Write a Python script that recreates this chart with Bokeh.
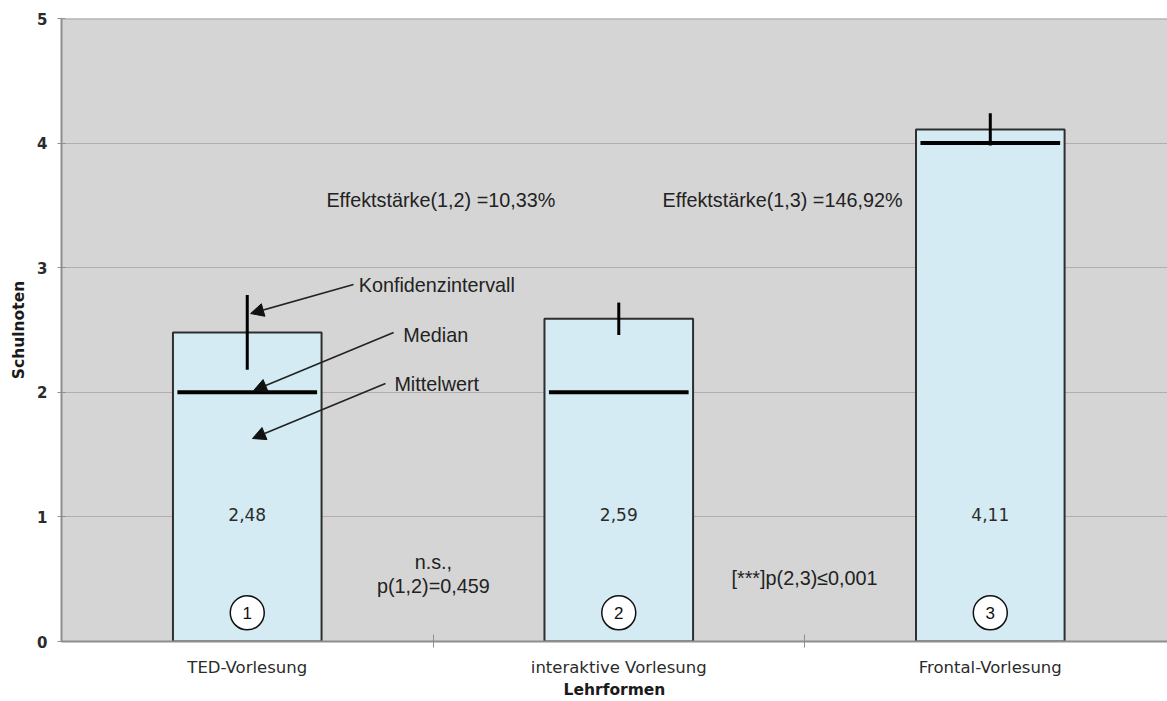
from bokeh.plotting import figure
from bokeh.models import (ColumnDataSource, Range1d, FixedTicker, Arrow, NormalHead, Span)
from bokeh.core.properties import value
from bokeh.embed import file_html
from bokeh.resources import INLINE

# --- data -------------------------------------------------------------
categories = ["TED-Vorlesung", "interaktive Vorlesung", "Frontal-Vorlesung"]
group_ids = ["1", "2", "3"]
means = [2.48, 2.59, 4.11]
medians = [2.0, 2.0, 4.0]
ci_low = [2.18, 2.46, 3.98]
ci_high = [2.78, 2.72, 4.24]

effect_texts = ["Effektstärke(1,2) =10,33%", "Effektstärke(1,3) =146,92%"]
test_texts = ["n.s.,", "p(1,2)=0,459", "[***]p(2,3)≤0,001"]
legend_texts = ["Konfidenzintervall", "Median", "Mittelwert"]

# --- layout helpers -----------------------------------------------------
xc = [i + 0.5 for i in range(len(categories))]
bar_w = 0.40
label_font = value("Liberation Sans")
tick_font = "DejaVu Sans"

p = figure(width=1167, height=701, output_backend="svg", toolbar_location=None,
           x_range=Range1d(0, 2.977), y_range=Range1d(0, 5),
           min_border_left=61, min_border_right=0, min_border_top=18,
           min_border_bottom=60)
p.background_fill_color = "#d5d5d5"
p.border_fill_color = "white"
p.outline_line_color = None

# axes
p.xaxis.ticker = FixedTicker(ticks=xc, minor_ticks=[1, 2])
p.xaxis.major_label_overrides = {x: c for x, c in zip(xc, categories)}
p.xaxis.major_tick_line_color = None
p.xaxis.minor_tick_in = 7
p.xaxis.minor_tick_out = 6
p.xaxis.minor_tick_line_color = "#8e8e8e"
p.xaxis.axis_line_color = "#8e8e8e"
p.xaxis.axis_line_width = 2
p.xaxis.major_label_text_font = tick_font
p.xaxis.major_label_text_font_size = "16.5px"
p.xaxis.major_label_text_color = "#2b2b2b"
p.xaxis.major_label_standoff = 10
p.xaxis.axis_label = "Lehrformen"
p.xaxis.axis_label_text_font = tick_font
p.xaxis.axis_label_text_font_style = "bold"
p.xaxis.axis_label_text_font_size = "15.5px"
p.xaxis.axis_label_text_color = "#1a1a1a"
p.xaxis.axis_label_standoff = 1

p.yaxis.ticker = FixedTicker(ticks=[0, 1, 2, 3, 4, 5])
p.yaxis.minor_tick_line_color = None
p.yaxis.major_tick_in = 4
p.yaxis.major_tick_out = 4
p.yaxis.major_tick_line_color = "#8e8e8e"
p.yaxis.axis_line_color = "#8e8e8e"
p.yaxis.axis_line_width = 2
p.yaxis.major_label_text_font = tick_font
p.yaxis.major_label_text_font_style = "bold"
p.yaxis.major_label_text_font_size = "15px"
p.yaxis.major_label_text_color = "#2b2b2b"
p.yaxis.major_label_standoff = 10
p.yaxis.axis_label = "Schulnoten"
p.yaxis.axis_label_text_font = tick_font
p.yaxis.axis_label_text_font_style = "bold"
p.yaxis.axis_label_text_font_size = "15.5px"
p.yaxis.axis_label_text_color = "#1a1a1a"
p.yaxis.axis_label_standoff = 6

p.xgrid.grid_line_color = None
p.ygrid.grid_line_color = "#b4adad"
p.ygrid.grid_line_width = 1

# top frame edge
p.add_layout(Span(location=5, dimension="width", line_color="#a3a3a3", line_width=2))

# --- bars, medians, confidence intervals ------------------------------
src = ColumnDataSource(dict(
    x=xc, mean=means, median=medians, lo=ci_low, hi=ci_high,
    mleft=[x - bar_w / 2 + 0.012 for x in xc], mright=[x + bar_w / 2 - 0.012 for x in xc],
    label=[f"{m:.2f}".replace(".", ",") for m in means],
    gid=group_ids,
))

p.vbar(x="x", top="mean", bottom=0, width=bar_w, source=src,
       fill_color="#d5ebf3", line_color="#2e2e2e", line_width=2)
p.segment(x0="mleft", x1="mright", y0="median", y1="median", source=src,
          line_color="#000000", line_width=4)
p.segment(x0="x", x1="x", y0="lo", y1="hi", source=src,
          line_color="#000000", line_width=3)

# mean value labels
p.text(x="x", y=1.02, text="label", source=src, text_align="center",
       text_baseline="middle", text_font=value(tick_font),
       text_font_size="17px", text_color="#2b2b2b")

# numbered circles
p.scatter(x="x", y=0.23, source=src, marker="circle", size=34,
          fill_color="white", line_color="#111111", line_width=1.5)
p.text(x="x", y=0.23, text="gid", source=src, text_align="center",
       text_baseline="middle", text_font=label_font,
       text_font_size="17px", text_color="#111111")

# --- annotations --------------------------------------------------------
p.text(x=[0.713, 1.618], y=[3.547, 3.547], text=effect_texts,
       text_align="left", text_baseline="middle", text_font=label_font,
       text_font_size="19.8px", text_color="#222222")
p.text(x=[1.001, 1.001, 2.0], y=[0.642, 0.449, 0.506], text=test_texts,
       text_align="center", text_baseline="middle", text_font=label_font,
       text_font_size="19.8px", text_color="#222222")
p.text(x=[0.80, 0.92, 0.896], y=[2.865, 2.456, 2.07], text=legend_texts,
       text_align="left", text_baseline="middle", text_font=label_font,
       text_font_size="19.8px", text_color="#222222")

arrow_src = ColumnDataSource(dict(
    xs=[0.786, 0.894, 0.872], ys=[2.865, 2.48, 2.07],
    xe=[0.509, 0.517, 0.514], ye=[2.632, 2.014, 1.629],
))
p.add_layout(Arrow(end=NormalHead(size=13, fill_color="#111111", line_color="#111111"),
                   x_start="xs", y_start="ys", x_end="xe", y_end="ye",
                   source=arrow_src, line_color="#222222", line_width=1.6))

open("out.html", "w").write(file_html(p, INLINE))
